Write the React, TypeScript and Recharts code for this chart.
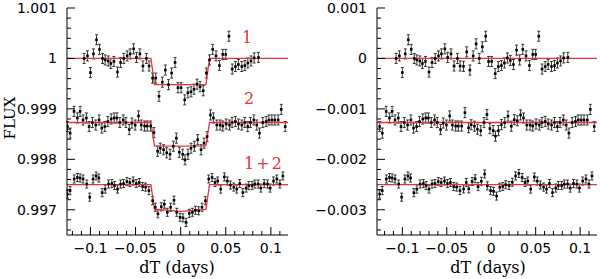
import React from 'react';
import { ComposedChart, Scatter, Line, XAxis, YAxis, ErrorBar } from 'recharts';

// transit 1
const t1 = [
  -0.107, -0.1033, -0.1, -0.0967, -0.0933, -0.09, -0.0866, -0.0837, -0.0803, -0.0774,
  -0.074, -0.07, -0.0666, -0.063, -0.0593, -0.056, -0.0522, -0.049, -0.0452, -0.0418,
  -0.038, -0.035, -0.0312, -0.0276, -0.024, -0.0203, -0.017, -0.0135, -0.01, -0.0062,
  -0.003, 0.0005, 0.0045, 0.008, 0.0115, 0.0148, 0.0182, 0.0215, 0.025, 0.0285,
  0.032, 0.0355, 0.0392, 0.043, 0.0467, 0.05, 0.0535, 0.0572, 0.0607, 0.064,
  0.0678, 0.0712, 0.0745, 0.078, 0.0815, 0.0862,
];
const f1 = [
  1.0, 1.00005, 0.99972, 1.00009, 1.00037, 1.00018, 1.0, 0.99997, 0.99995, 0.9999,
  0.99994, 0.99973, 0.99992, 1.0, 1.00005, 1.00009, 1.00019, 1.00002, 1.00009, 0.99985,
  1.0, 0.99985, 0.99961, 0.99961, 0.99925, 0.99953, 0.99977, 0.99948, 0.99971, 0.99992,
  0.99942, 0.99942, 0.99918, 0.99932, 0.99934, 0.99939, 0.99949, 0.99944, 0.99936, 0.99971,
  0.99997, 1.00018, 1.00005, 0.99986, 1.00008, 1.00008, 1.00044, 0.99979, 0.99984, 0.99988,
  0.99984, 0.99986, 0.99991, 0.99995, 1.00001, 1.00002,
];

// transit 2
const t2 = [
  -0.1255, -0.1225, -0.1182, -0.1145, -0.1115, -0.1082, -0.1045, -0.1015, -0.0978, -0.0941,
  -0.0904, -0.0874, -0.084, -0.0807, -0.077, -0.0737, -0.0707, -0.0674, -0.0637, -0.0607,
  -0.057, -0.054, -0.0504, -0.0467, -0.0437, -0.04, -0.037, -0.0333, -0.0296, -0.0255,
  -0.0226, -0.0189, -0.0155, -0.0118, -0.0081, -0.0048, -0.0015, 0.0022, 0.0048, 0.0081,
  0.0115, 0.0152, 0.0189, 0.0226, 0.0259, 0.0293, 0.033, 0.0363, 0.04, 0.0437,
  0.0467, 0.0504, 0.0541, 0.057, 0.0607, 0.0641, 0.0678, 0.0711, 0.0744, 0.0774,
  0.0811, 0.0844, 0.0874, 0.0911, 0.0948, 0.0978, 0.1011, 0.1044, 0.1081, 0.1115,
  0.1159,
];
const f2 = [
  0.99865, 0.99852, 0.99895, 0.99882, 0.99895, 0.99878, 0.99882, 0.99865, 0.99873, 0.99868,
  0.99878, 0.99862, 0.99865, 0.99875, 0.9988, 0.99882, 0.99882, 0.99873, 0.99878, 0.99873,
  0.99859, 0.99872, 0.99868, 0.99886, 0.99868, 0.99866, 0.99866, 0.99866, 0.99853, 0.99816,
  0.99822, 0.99819, 0.99813, 0.9981, 0.99826, 0.99842, 0.99814, 0.9981, 0.99799, 0.9981,
  0.99822, 0.99826, 0.99839, 0.99819, 0.99832, 0.99845, 0.99888, 0.99882, 0.99868, 0.99868,
  0.99866, 0.9987, 0.99868, 0.99873, 0.99875, 0.9987, 0.99868, 0.99873, 0.99865, 0.99873,
  0.99878, 0.99868, 0.99852, 0.99873, 0.99875, 0.99878, 0.99878, 0.99878, 0.99878, 0.99899,
  0.99865,
];

// 1+2 combined
const t3 = [
  -0.1256, -0.1226, -0.118, -0.1145, -0.1115, -0.1082, -0.1041, -0.1008, -0.0971, -0.0937,
  -0.0907, -0.087, -0.0837, -0.08, -0.0763, -0.0733, -0.07, -0.0666, -0.0633, -0.0596,
  -0.0563, -0.0526, -0.0493, -0.0459, -0.0422, -0.0389, -0.0352, -0.0311, -0.0281, -0.0252,
  -0.0215, -0.0181, -0.0148, -0.0111, -0.0074, -0.0044, -0.0007, 0.0026, 0.006, 0.0096,
  0.013, 0.0163, 0.02, 0.0237, 0.0274, 0.0311, 0.0348, 0.0381, 0.0411, 0.0444,
  0.0485, 0.0518, 0.0552, 0.0589, 0.0622, 0.0655, 0.0689, 0.0726, 0.0755, 0.0792,
  0.0822, 0.0859, 0.0889, 0.0926, 0.0963, 0.0992, 0.1029, 0.1066, 0.11, 0.1133,
];
const f3 = [
  0.99731, 0.99738, 0.99761, 0.99764, 0.99763, 0.99761, 0.99751, 0.99725, 0.99761, 0.99767,
  0.99763, 0.99734, 0.99741, 0.99751, 0.99752, 0.99748, 0.99741, 0.99751, 0.99752, 0.99756,
  0.99754, 0.99757, 0.99752, 0.99754, 0.99746, 0.99745, 0.99738, 0.99718, 0.99705, 0.99692,
  0.99706, 0.99711, 0.99695, 0.99705, 0.99719, 0.99695, 0.99685, 0.99684, 0.99675, 0.99693,
  0.99695, 0.99699, 0.99698, 0.99705, 0.99718, 0.99761, 0.99764, 0.99754, 0.99757, 0.99741,
  0.99765, 0.99757, 0.99749, 0.99745, 0.99741, 0.99752, 0.99734, 0.99743, 0.99748, 0.99748,
  0.99751, 0.99751, 0.99743, 0.99752, 0.99751, 0.99743, 0.99757, 0.99761, 0.99751, 0.99767,
];

const errs = [0.0001, 0.0001, 0.00008];

// fitted model: contact times and model flux at those times
const modelT = [-0.13, -0.033, -0.029, 0, 0.028, 0.032, 0.12];
const model1 = [1, 1, 0.99948, 0.99948, 0.99948, 1, 1];
const model2 = [0.99873, 0.99873, 0.998265, 0.99826, 0.998265, 0.99873, 0.99873];
const model3 = [0.9975, 0.9975, 0.99701, 0.99697, 0.99701, 0.9975, 0.9975];
const baselines = [1, 0.99873, 0.9975];

const xMajor = [-0.1, -0.05, 0, 0.05, 0.1];
const xLabels = ['\u22120.1', '\u22120.05', '0', '0.05', '0.1'];
const yMajorL = [0.997, 0.998, 0.999, 1, 1.001];
const yLabelsL = ['0.997', '0.998', '0.999', '1', '1.001'];
const yMajorR = [-0.003, -0.002, -0.001, 0, 0.001];
const yLabelsR = ['\u22120.003', '\u22120.002', '\u22120.001', '0', '0.001'];

const RED = '#e3343f';
const TICK_FONT = '"DejaVu Sans", sans-serif';
const LABEL_FONT = '"DejaVu Serif", serif';

const xTicks: number[] = [];
for (let i = -12; i <= 11; i++) xTicks.push(i / 100);
const yTicksL: number[] = [];
for (let i = 9966; i <= 10010; i += 2) yTicksL.push(i / 10000);
const yTicksR: number[] = [];
for (let i = -34; i <= 10; i += 2) yTicksR.push(i / 10000);

const modelAt = (mf: number[], t: number) => {
  for (let i = 0; i < modelT.length - 1; i++) {
    if (t >= modelT[i] && t <= modelT[i + 1]) {
      const u = (t - modelT[i]) / (modelT[i + 1] - modelT[i]);
      return mf[i] + u * (mf[i + 1] - mf[i]);
    }
  }
  return mf[0];
};

const times = [t1, t2, t3];
const fluxes = [f1, f2, f3];
const models = [model1, model2, model3];

const lcPoints = times.map((ts, k) => ts.map((t, i) => ({ t, f: fluxes[k][i], e: errs[k] })));
// residuals: data minus model, shifted by each curve's offset
const resPoints = times.map((ts, k) =>
  ts.map((t, i) => ({ t, f: fluxes[k][i] - modelAt(models[k], t) + baselines[k] - 1, e: errs[k] }))
);
const lcCurves = models.map((m) => modelT.map((t, i) => ({ t, f: m[i] })));
const resCurves = baselines.map((b) => [{ t: -0.13, f: b - 1 }, { t: 0.12, f: b - 1 }]);

const findIdx = (arr: number[], v: number) => arr.findIndex((m) => Math.abs(m - v) < 1e-9);

const XTick = (props: any) => {
  const { x, y, payload, side } = props;
  const idx = findIdx(xMajor, payload.value);
  const len = idx >= 0 ? 8 : 4;
  const dir = side === 'bottom' ? -1 : 1;
  return (
    <g>
      <line x1={x} x2={x} y1={y} y2={y + dir * len} stroke="#000" strokeWidth={1} />
      {side === 'bottom' && idx >= 0 && (
        <text x={x} y={y + 18} textAnchor="middle" fontSize={14} fontFamily={TICK_FONT} fill="#000">
          {xLabels[idx]}
        </text>
      )}
    </g>
  );
};

const YTick = (props: any) => {
  const { x, y, payload, side, major, labels } = props;
  const idx = findIdx(major, payload.value);
  const len = idx >= 0 ? 8 : 4;
  const dir = side === 'left' ? 1 : -1;
  return (
    <g>
      <line x1={x} x2={x + dir * len} y1={y} y2={y} stroke="#000" strokeWidth={1} />
      {side === 'left' && idx >= 0 && (
        <text x={x - 10} y={y + 5} textAnchor="end" fontSize={14} fontFamily={TICK_FONT} fill="#000">
          {labels[idx]}
        </text>
      )}
    </g>
  );
};

const Dot = (p: any) => <rect x={p.cx - 1.3} y={p.cy - 1.3} width={2.6} height={2.6} fill="#000" />;

interface PanelProps {
  yWidth: number;
  marginRight: number;
  xDomain: [number, number];
  yDomain: [number, number];
  yTicks: number[];
  yMajor: number[];
  yLabels: string[];
  points: { t: number; f: number; e: number }[][];
  curves: { t: number; f: number }[][];
}

const Panel: React.FC<PanelProps> = ({ yWidth, marginRight, xDomain, yDomain, yTicks, yMajor, yLabels, points, curves }) => (
  <ComposedChart width={300} height={279} margin={{ top: 8, right: marginRight, bottom: 14, left: 8 }}>
    <XAxis
      xAxisId="b"
      dataKey="t"
      type="number"
      domain={xDomain}
      allowDataOverflow
      ticks={xTicks}
      interval={0}
      tickSize={0}
      tickMargin={0}
      tickLine={false}
      axisLine={{ stroke: '#000' }}
      height={30}
      tick={(p: any) => <XTick {...p} side="bottom" />}
    />
    <XAxis
      xAxisId="t"
      orientation="top"
      type="number"
      domain={xDomain}
      allowDataOverflow
      ticks={xTicks}
      interval={0}
      tickSize={0}
      tickMargin={0}
      tickLine={false}
      axisLine={{ stroke: '#000' }}
      height={0}
      tick={(p: any) => <XTick {...p} side="top" />}
    />
    <YAxis
      yAxisId="l"
      dataKey="f"
      type="number"
      domain={yDomain}
      allowDataOverflow
      ticks={yTicks}
      interval={0}
      tickSize={0}
      tickMargin={0}
      tickLine={false}
      axisLine={{ stroke: '#000' }}
      width={yWidth}
      tick={(p: any) => <YTick {...p} side="left" major={yMajor} labels={yLabels} />}
    />
    <YAxis
      yAxisId="r"
      orientation="right"
      type="number"
      domain={yDomain}
      allowDataOverflow
      ticks={yTicks}
      interval={0}
      tickSize={0}
      tickMargin={0}
      tickLine={false}
      axisLine={{ stroke: '#000' }}
      width={0}
      tick={(p: any) => <YTick {...p} side="right" major={yMajor} labels={yLabels} />}
    />
    {points.map((d, i) => (
      <Scatter key={`s${i}`} xAxisId="b" yAxisId="l" data={d} dataKey="f" shape={Dot} isAnimationActive={false}>
        <ErrorBar dataKey="e" direction="y" width={1.5} stroke="#222" strokeWidth={0.9} isAnimationActive={false} />
      </Scatter>
    ))}
    {curves.map((c, i) => (
      <Line
        key={`l${i}`}
        xAxisId="b"
        yAxisId="l"
        data={c}
        dataKey="f"
        type="linear"
        stroke={RED}
        strokeWidth={1.3}
        dot={false}
        activeDot={false}
        isAnimationActive={false}
      />
    ))}
  </ComposedChart>
);

const abs = (left: number, top: number, extra: React.CSSProperties = {}): React.CSSProperties => ({
  position: 'absolute',
  left,
  top,
  transform: 'translate(-50%, -50%)',
  whiteSpace: 'nowrap',
  lineHeight: 1,
  ...extra,
});

export default function App() {
  return (
    <div style={{ position: 'absolute', left: 0, top: 0, width: 600, height: 279, background: '#fff' }}>
      <div style={{ position: 'absolute', left: 0, top: 0 }}>
        <Panel
          yWidth={59}
          marginRight={12}
          xDomain={[-0.126, 0.119]}
          yDomain={[0.9965, 1.001]}
          yTicks={yTicksL}
          yMajor={yMajorL}
          yLabels={yLabelsL}
          points={lcPoints}
          curves={lcCurves}
        />
      </div>
      <div style={{ position: 'absolute', left: 300, top: 0 }}>
        <Panel
          yWidth={69}
          marginRight={3}
          xDomain={[-0.1285, 0.119]}
          yDomain={[-0.0035, 0.001]}
          yTicks={yTicksR}
          yMajor={yMajorR}
          yLabels={yLabelsR}
          points={resPoints}
          curves={resCurves}
        />
      </div>
      <div style={abs(177, 268, { fontFamily: LABEL_FONT, fontSize: 16 })}>dT (days)</div>
      <div style={abs(488, 268, { fontFamily: LABEL_FONT, fontSize: 16 })}>dT (days)</div>
      <div style={abs(10, 118, { fontFamily: LABEL_FONT, fontSize: 15, transform: 'translate(-50%, -50%) rotate(-90deg)' })}>
        FLUX
      </div>
      <div style={abs(247, 38, { fontFamily: LABEL_FONT, fontSize: 16, color: RED })}>1</div>
      <div style={abs(249, 99, { fontFamily: LABEL_FONT, fontSize: 16, color: RED })}>2</div>
      <div style={abs(264, 164, { fontFamily: LABEL_FONT, fontSize: 16, color: RED, letterSpacing: 2 })}>1+2</div>
    </div>
  );
}
